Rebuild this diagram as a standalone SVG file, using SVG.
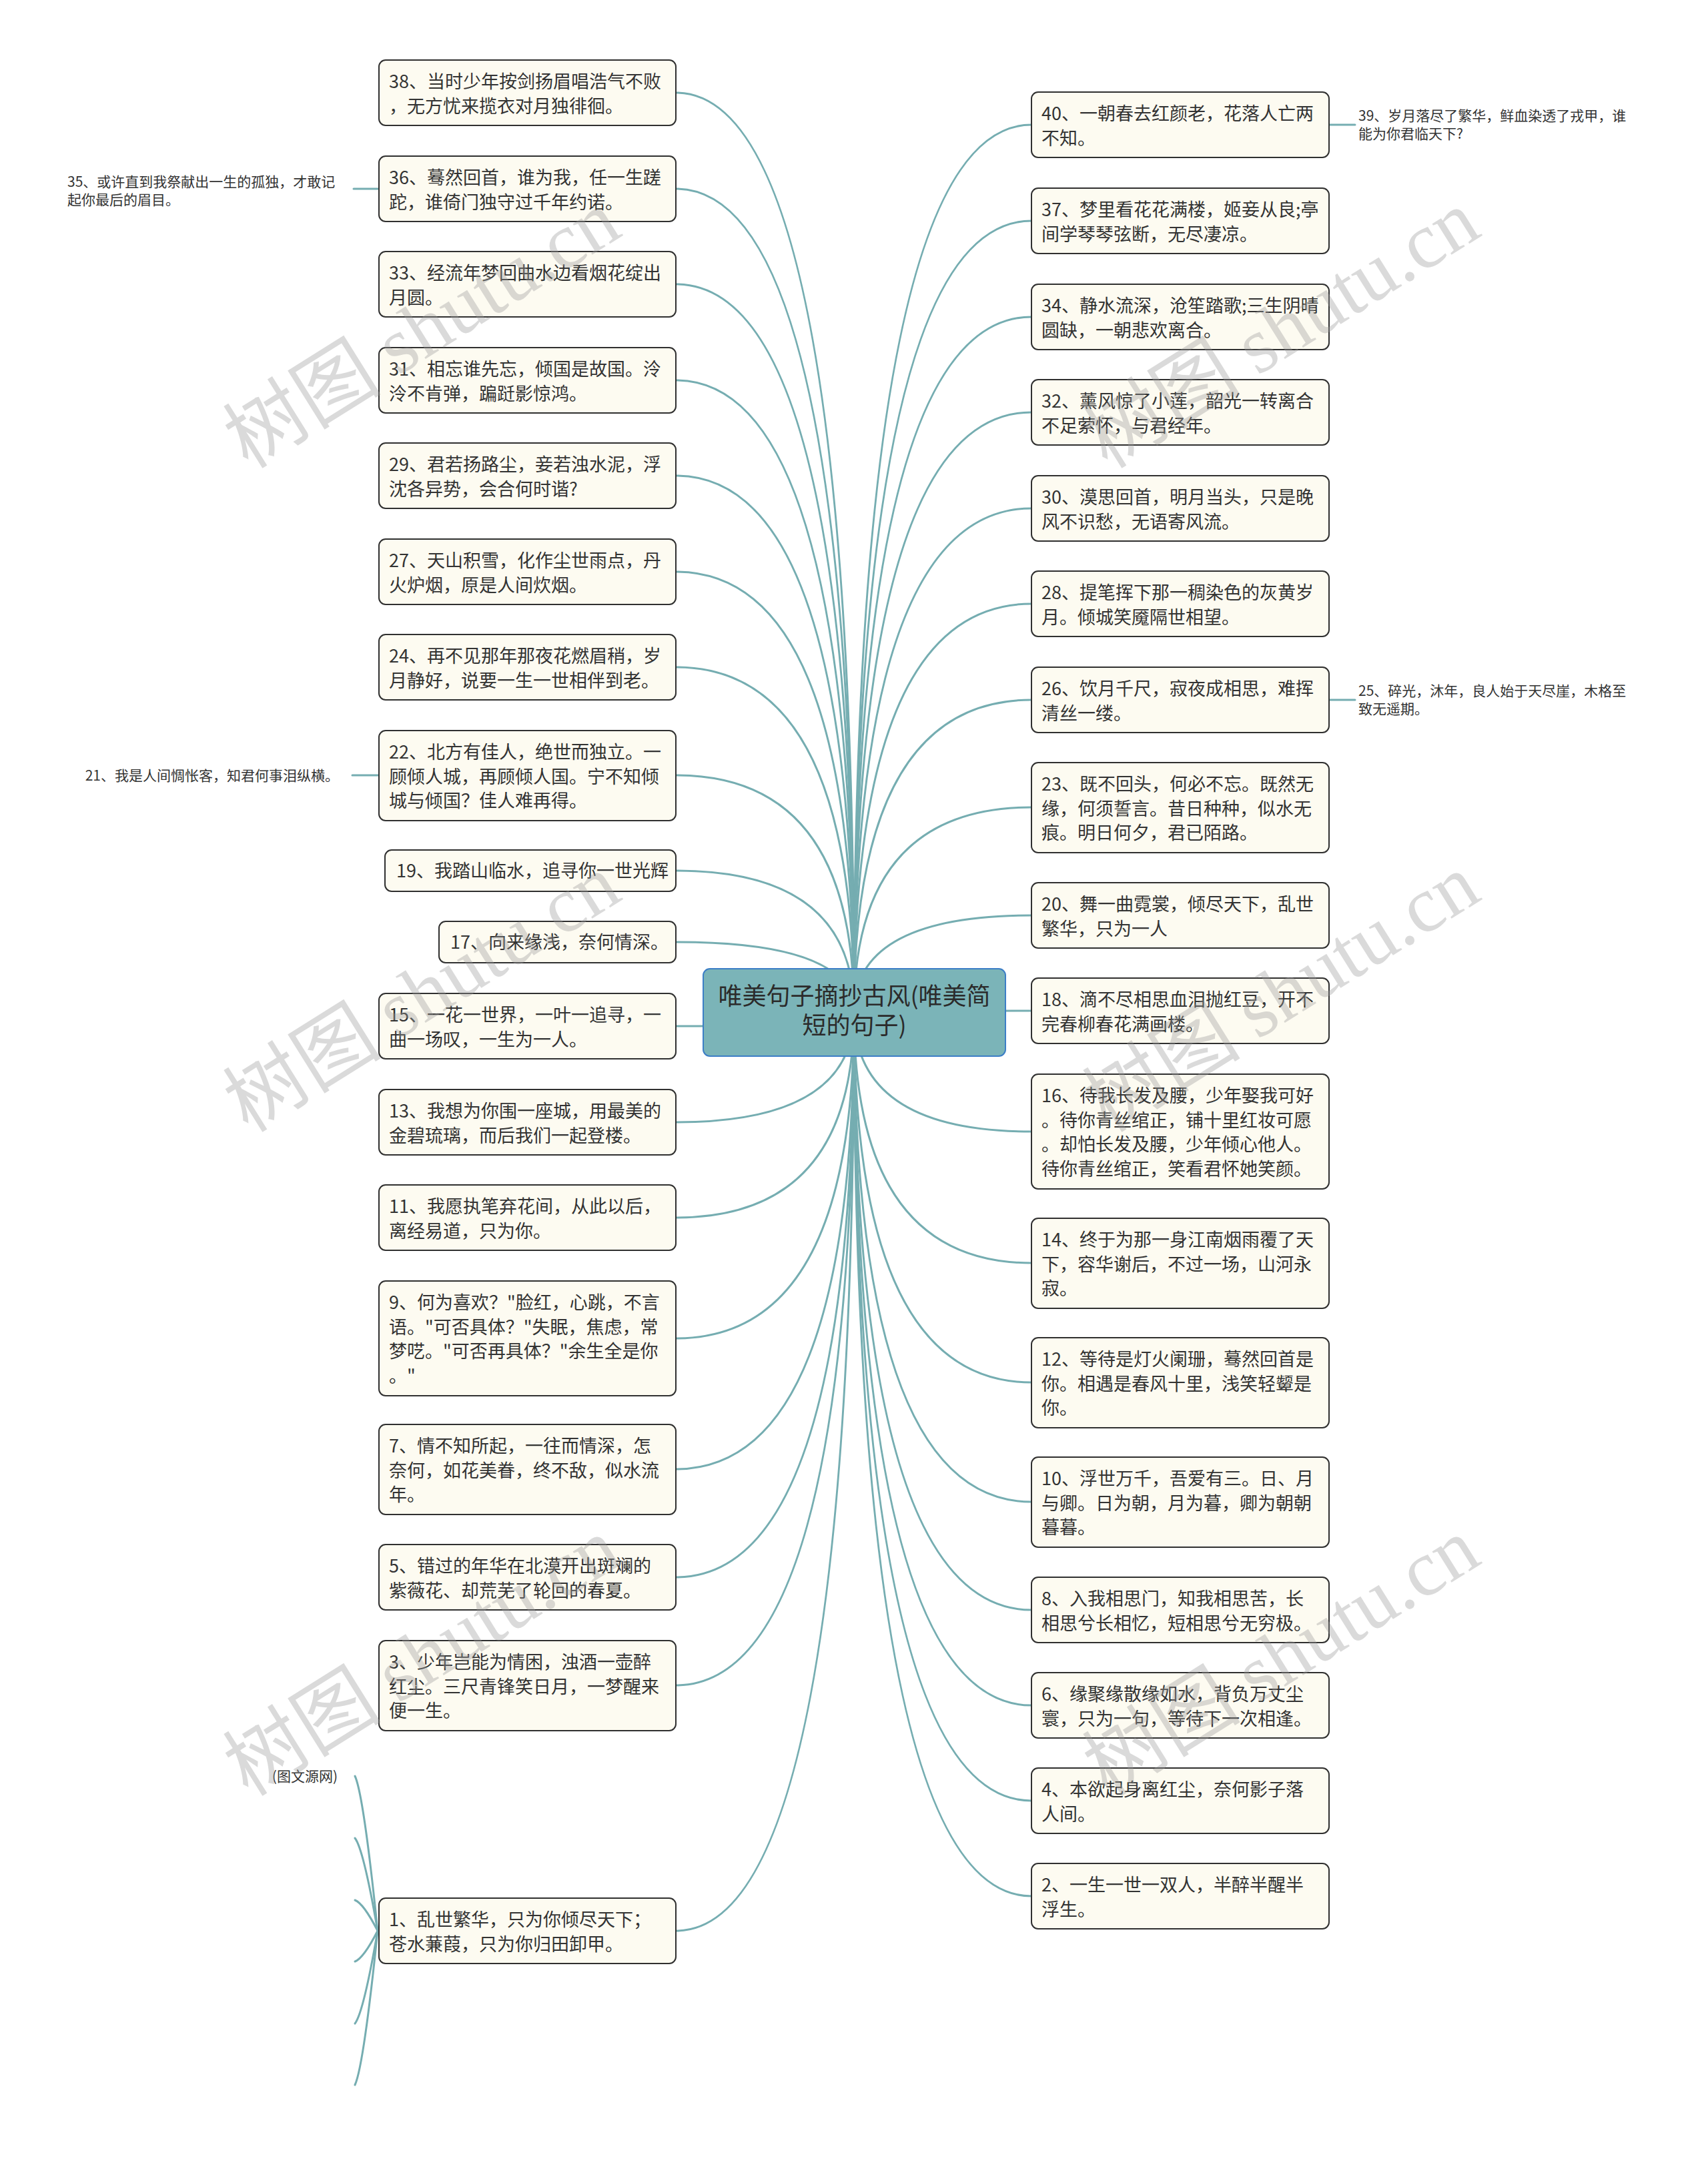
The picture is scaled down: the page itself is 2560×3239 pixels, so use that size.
<svg xmlns="http://www.w3.org/2000/svg" width="2560" height="3239" viewBox="0 0 2560 3239">
<style>
.box{fill:#fdfbf1;stroke:#303030;stroke-width:2}
.t{font-family:"Noto Sans CJK SC","Noto Sans",sans-serif;font-size:27px;fill:#333}
.s{font-family:"Noto Sans CJK SC","Noto Sans",sans-serif;font-size:21px;fill:#333}
.c{fill:none;stroke:#75adb1;stroke-width:3;stroke-linecap:round}
.wm{font-family:"Noto Sans CJK SC",sans-serif;font-size:119px;fill:#9a9a9a;opacity:0.36}
.wm2{font-family:"Liberation Serif",serif}
</style>
<rect width="2560" height="3239" fill="#ffffff"/>
<g id="connectors">
<path class="c" d="M1280 1517Q1280 139 1013 139"/>
<path class="c" d="M1280 1517Q1280 283 1013 283"/>
<path class="c" d="M1280 1517Q1280 426 1013 426"/>
<path class="c" d="M1280 1517Q1280 570 1013 570"/>
<path class="c" d="M1280 1517Q1280 713 1013 713"/>
<path class="c" d="M1280 1517Q1280 857 1013 857"/>
<path class="c" d="M1280 1517Q1280 1000 1013 1000"/>
<path class="c" d="M1280 1517Q1280 1162 1013 1162"/>
<path class="c" d="M1280 1517Q1280 1305 1013 1305"/>
<path class="c" d="M1280 1517Q1280 1412 1013 1412"/>
<path class="c" d="M1280 1517Q1280 1538 1013 1538"/>
<path class="c" d="M1280 1517Q1280 1682 1013 1682"/>
<path class="c" d="M1280 1517Q1280 1825 1013 1825"/>
<path class="c" d="M1280 1517Q1280 2006 1013 2006"/>
<path class="c" d="M1280 1517Q1280 2202 1013 2202"/>
<path class="c" d="M1280 1517Q1280 2364 1013 2364"/>
<path class="c" d="M1280 1517Q1280 2526 1013 2526"/>
<path class="c" d="M1280 1517Q1280 2894 1013 2894"/>
<path class="c" d="M1280 1517Q1280 187 1546 187"/>
<path class="c" d="M1280 1517Q1280 331 1546 331"/>
<path class="c" d="M1280 1517Q1280 475 1546 475"/>
<path class="c" d="M1280 1517Q1280 618 1546 618"/>
<path class="c" d="M1280 1517Q1280 762 1546 762"/>
<path class="c" d="M1280 1517Q1280 905 1546 905"/>
<path class="c" d="M1280 1517Q1280 1049 1546 1049"/>
<path class="c" d="M1280 1517Q1280 1210 1546 1210"/>
<path class="c" d="M1280 1517Q1280 1372 1546 1372"/>
<path class="c" d="M1280 1517Q1280 1515 1546 1515"/>
<path class="c" d="M1280 1517Q1280 1696 1546 1696"/>
<path class="c" d="M1280 1517Q1280 1893 1546 1893"/>
<path class="c" d="M1280 1517Q1280 2072 1546 2072"/>
<path class="c" d="M1280 1517Q1280 2251 1546 2251"/>
<path class="c" d="M1280 1517Q1280 2413 1546 2413"/>
<path class="c" d="M1280 1517Q1280 2556 1546 2556"/>
<path class="c" d="M1280 1517Q1280 2699 1546 2699"/>
<path class="c" d="M1280 1517Q1280 2842 1546 2842"/>
<path class="c" d="M1992 187L2031 187"/>
<path class="c" d="M1992 1049L2031 1049"/>
<path class="c" d="M568 283L530 283"/>
<path class="c" d="M568 1162L528 1162"/>
<path class="c" d="M566 2894Q545 2690 532 2662"/>
<path class="c" d="M566 2894Q545 2772 532 2755"/>
<path class="c" d="M566 2894Q545 2853 532 2848"/>
<path class="c" d="M566 2894Q545 2935 532 2940"/>
<path class="c" d="M566 2894Q545 3016 532 3033"/>
<path class="c" d="M566 2894Q545 3097 532 3125"/>
</g>
<g id="root">
<rect x="1054" y="1452" width="453" height="131" rx="10" fill="#7bb4b8" stroke="#3c7ec6" stroke-width="2"/>
<text x="1280.5" y="1506" text-anchor="middle" font-family="'Noto Sans CJK SC',sans-serif" font-size="36" fill="#2b2b2b">唯美句子摘抄古风(唯美简</text>
<text x="1280.5" y="1550" text-anchor="middle" font-family="'Noto Sans CJK SC',sans-serif" font-size="36" fill="#2b2b2b">短的句子)</text>
</g>
<g id="n38"><rect class="box" x="568" y="90" width="445" height="98" rx="10"/><text class="t" x="583" y="132">38、当时少年按剑扬眉唱浩气不败<tspan x="583" dy="36.7">，无方忧来揽衣对月独徘徊。</tspan></text></g>
<g id="n36"><rect class="box" x="568" y="234" width="445" height="98" rx="10"/><text class="t" x="583" y="276">36、蓦然回首，谁为我，任一生蹉<tspan x="583" dy="36.7">跎，谁倚门独守过千年约诺。</tspan></text></g>
<g id="n35"><text class="s" x="101" y="280">35、或许直到我祭献出一生的孤独，才敢记<tspan x="101" dy="27">起你最后的眉目。</tspan></text></g>
<g id="n33"><rect class="box" x="568" y="377" width="445" height="98" rx="10"/><text class="t" x="583" y="419">33、经流年梦回曲水边看烟花绽出<tspan x="583" dy="36.7">月圆。</tspan></text></g>
<g id="n31"><rect class="box" x="568" y="521" width="445" height="98" rx="10"/><text class="t" x="583" y="563">31、相忘谁先忘，倾国是故国。泠<tspan x="583" dy="36.7">泠不肯弹，蹁跹影惊鸿。</tspan></text></g>
<g id="n29"><rect class="box" x="568" y="664" width="445" height="98" rx="10"/><text class="t" x="583" y="706">29、君若扬路尘，妾若浊水泥，浮<tspan x="583" dy="36.7">沈各异势，会合何时谐?</tspan></text></g>
<g id="n27"><rect class="box" x="568" y="808" width="445" height="98" rx="10"/><text class="t" x="583" y="850">27、天山积雪，化作尘世雨点，丹<tspan x="583" dy="36.7">火炉烟，原是人间炊烟。</tspan></text></g>
<g id="n24"><rect class="box" x="568" y="951" width="445" height="98" rx="10"/><text class="t" x="583" y="993">24、再不见那年那夜花燃眉稍，岁<tspan x="583" dy="36.7">月静好，说要一生一世相伴到老。</tspan></text></g>
<g id="n22"><rect class="box" x="568" y="1095" width="445" height="135" rx="10"/><text class="t" x="583" y="1137">22、北方有佳人，绝世而独立。一<tspan x="583" dy="36.7">顾倾人城，再顾倾人国。宁不知倾</tspan><tspan x="583" dy="36.7">城与倾国？佳人难再得。</tspan></text></g>
<g id="n21"><text class="s" x="508" y="1170" text-anchor="end">21、我是人间惆怅客，知君何事泪纵横。</text></g>
<g id="n19"><rect class="box" x="577" y="1274" width="436" height="62" rx="10"/><text class="t" x="594" y="1315">19、我踏山临水，追寻你一世光辉</text></g>
<g id="n17"><rect class="box" x="658" y="1381" width="355" height="62" rx="10"/><text class="t" x="675" y="1422">17、向来缘浅，奈何情深。</text></g>
<g id="n15"><rect class="box" x="568" y="1489" width="445" height="98" rx="10"/><text class="t" x="583" y="1531">15、一花一世界，一叶一追寻，一<tspan x="583" dy="36.7">曲一场叹，一生为一人。</tspan></text></g>
<g id="n13"><rect class="box" x="568" y="1633" width="445" height="98" rx="10"/><text class="t" x="583" y="1675">13、我想为你围一座城，用最美的<tspan x="583" dy="36.7">金碧琉璃，而后我们一起登楼。</tspan></text></g>
<g id="n11"><rect class="box" x="568" y="1776" width="445" height="98" rx="10"/><text class="t" x="583" y="1818">11、我愿执笔弃花间，从此以后，<tspan x="583" dy="36.7">离经易道，只为你。</tspan></text></g>
<g id="n9"><rect class="box" x="568" y="1920" width="445" height="172" rx="10"/><text class="t" x="583" y="1962">9、何为喜欢？"脸红，心跳，不言<tspan x="583" dy="36.7">语。"可否具体？"失眠，焦虑，常</tspan><tspan x="583" dy="36.7">梦呓。"可否再具体？"余生全是你</tspan><tspan x="583" dy="36.7">。"</tspan></text></g>
<g id="n7"><rect class="box" x="568" y="2135" width="445" height="135" rx="10"/><text class="t" x="583" y="2177">7、情不知所起，一往而情深，怎<tspan x="583" dy="36.7">奈何，如花美眷，终不敌，似水流</tspan><tspan x="583" dy="36.7">年。</tspan></text></g>
<g id="n5"><rect class="box" x="568" y="2315" width="445" height="98" rx="10"/><text class="t" x="583" y="2357">5、错过的年华在北漠开出斑斓的<tspan x="583" dy="36.7">紫薇花、却荒芜了轮回的春夏。</tspan></text></g>
<g id="n3"><rect class="box" x="568" y="2459" width="445" height="135" rx="10"/><text class="t" x="583" y="2501">3、少年岂能为情困，浊酒一壶醉<tspan x="583" dy="36.7">红尘。三尺青锋笑日月，一梦醒来</tspan><tspan x="583" dy="36.7">便一生。</tspan></text></g>
<g id="n1"><rect class="box" x="568" y="2845" width="445" height="98" rx="10"/><text class="t" x="583" y="2887">1、乱世繁华，只为你倾尽天下；<tspan x="583" dy="36.7">苍水蒹葭，只为你归田卸甲。</tspan></text></g>
<g id="n1a"><text class="s" x="506" y="2670" text-anchor="end">(图文源网)</text></g>
<g id="n40"><rect class="box" x="1546" y="138" width="446" height="98" rx="10"/><text class="t" x="1561" y="180">40、一朝春去红颜老，花落人亡两<tspan x="1561" dy="36.7">不知。</tspan></text></g>
<g id="n39"><text class="s" x="2036" y="181">39、岁月落尽了繁华，鲜血染透了戎甲，谁<tspan x="2036" dy="27">能为你君临天下?</tspan></text></g>
<g id="n37"><rect class="box" x="1546" y="282" width="446" height="98" rx="10"/><text class="t" x="1561" y="324">37、梦里看花花满楼，姬妾从良;亭<tspan x="1561" dy="36.7">间学琴琴弦断，无尽凄凉。</tspan></text></g>
<g id="n34"><rect class="box" x="1546" y="426" width="446" height="98" rx="10"/><text class="t" x="1561" y="468">34、静水流深，沧笙踏歌;三生阴晴<tspan x="1561" dy="36.7">圆缺，一朝悲欢离合。</tspan></text></g>
<g id="n32"><rect class="box" x="1546" y="569" width="446" height="98" rx="10"/><text class="t" x="1561" y="611">32、薰风惊了小莲，韶光一转离合<tspan x="1561" dy="36.7">不足萦怀，与君经年。</tspan></text></g>
<g id="n30"><rect class="box" x="1546" y="713" width="446" height="98" rx="10"/><text class="t" x="1561" y="755">30、漠思回首，明月当头，只是晚<tspan x="1561" dy="36.7">风不识愁，无语寄风流。</tspan></text></g>
<g id="n28"><rect class="box" x="1546" y="856" width="446" height="98" rx="10"/><text class="t" x="1561" y="898">28、提笔挥下那一稠染色的灰黄岁<tspan x="1561" dy="36.7">月。倾城笑魇隔世相望。</tspan></text></g>
<g id="n26"><rect class="box" x="1546" y="1000" width="446" height="98" rx="10"/><text class="t" x="1561" y="1042">26、饮月千尺，寂夜成相思，难挥<tspan x="1561" dy="36.7">清丝一缕。</tspan></text></g>
<g id="n25"><text class="s" x="2036" y="1043">25、碎光，沐年，良人始于天尽崖，木格至<tspan x="2036" dy="27">致无遥期。</tspan></text></g>
<g id="n23"><rect class="box" x="1546" y="1143" width="446" height="135" rx="10"/><text class="t" x="1561" y="1185">23、既不回头，何必不忘。既然无<tspan x="1561" dy="36.7">缘，何须誓言。昔日种种，似水无</tspan><tspan x="1561" dy="36.7">痕。明日何夕，君已陌路。</tspan></text></g>
<g id="n20"><rect class="box" x="1546" y="1323" width="446" height="98" rx="10"/><text class="t" x="1561" y="1365">20、舞一曲霓裳，倾尽天下，乱世<tspan x="1561" dy="36.7">繁华，只为一人</tspan></text></g>
<g id="n18"><rect class="box" x="1546" y="1466" width="446" height="98" rx="10"/><text class="t" x="1561" y="1508">18、滴不尽相思血泪抛红豆，开不<tspan x="1561" dy="36.7">完春柳春花满画楼。</tspan></text></g>
<g id="n16"><rect class="box" x="1546" y="1610" width="446" height="172" rx="10"/><text class="t" x="1561" y="1652">16、待我长发及腰，少年娶我可好<tspan x="1561" dy="36.7">。待你青丝绾正，铺十里红妆可愿</tspan><tspan x="1561" dy="36.7">。却怕长发及腰，少年倾心他人。</tspan><tspan x="1561" dy="36.7">待你青丝绾正，笑看君怀她笑颜。</tspan></text></g>
<g id="n14"><rect class="box" x="1546" y="1826" width="446" height="135" rx="10"/><text class="t" x="1561" y="1868">14、终于为那一身江南烟雨覆了天<tspan x="1561" dy="36.7">下，容华谢后，不过一场，山河永</tspan><tspan x="1561" dy="36.7">寂。</tspan></text></g>
<g id="n12"><rect class="box" x="1546" y="2005" width="446" height="135" rx="10"/><text class="t" x="1561" y="2047">12、等待是灯火阑珊，蓦然回首是<tspan x="1561" dy="36.7">你。相遇是春风十里，浅笑轻颦是</tspan><tspan x="1561" dy="36.7">你。</tspan></text></g>
<g id="n10"><rect class="box" x="1546" y="2184" width="446" height="135" rx="10"/><text class="t" x="1561" y="2226">10、浮世万千，吾爱有三。日、月<tspan x="1561" dy="36.7">与卿。日为朝，月为暮，卿为朝朝</tspan><tspan x="1561" dy="36.7">暮暮。</tspan></text></g>
<g id="n8"><rect class="box" x="1546" y="2364" width="446" height="98" rx="10"/><text class="t" x="1561" y="2406">8、入我相思门，知我相思苦，长<tspan x="1561" dy="36.7">相思兮长相忆，短相思兮无穷极。</tspan></text></g>
<g id="n6"><rect class="box" x="1546" y="2507" width="446" height="98" rx="10"/><text class="t" x="1561" y="2549">6、缘聚缘散缘如水，背负万丈尘<tspan x="1561" dy="36.7">寰，只为一句，等待下一次相逢。</tspan></text></g>
<g id="n4"><rect class="box" x="1546" y="2650" width="446" height="98" rx="10"/><text class="t" x="1561" y="2692">4、本欲起身离红尘，奈何影子落<tspan x="1561" dy="36.7">人间。</tspan></text></g>
<g id="n2"><rect class="box" x="1546" y="2793" width="446" height="98" rx="10"/><text class="t" x="1561" y="2835">2、一生一世一双人，半醉半醒半<tspan x="1561" dy="36.7">浮生。</tspan></text></g>
<g id="watermarks">
<text class="wm" transform="translate(372 704) rotate(-32)">树图 <tspan class="wm2">shutu.cn</tspan></text>
<text class="wm" transform="translate(372 1699) rotate(-32)">树图 <tspan class="wm2">shutu.cn</tspan></text>
<text class="wm" transform="translate(372 2694) rotate(-32)">树图 <tspan class="wm2">shutu.cn</tspan></text>
<text class="wm" transform="translate(1660 704) rotate(-32)">树图 <tspan class="wm2">shutu.cn</tspan></text>
<text class="wm" transform="translate(1660 1699) rotate(-32)">树图 <tspan class="wm2">shutu.cn</tspan></text>
<text class="wm" transform="translate(1660 2694) rotate(-32)">树图 <tspan class="wm2">shutu.cn</tspan></text>
</g>
</svg>
